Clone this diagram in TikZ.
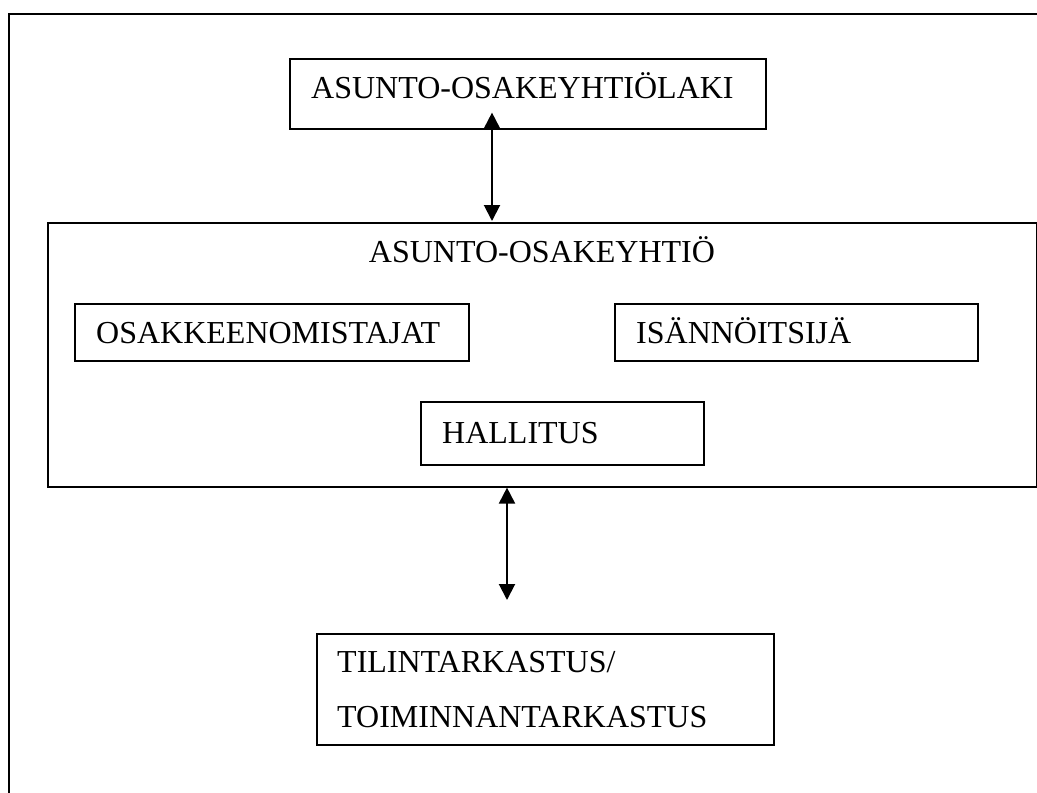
\documentclass[tikz,border=0pt]{standalone}
\usepackage{fontspec}
\setmainfont{Liberation Serif}
\usetikzlibrary{arrows.meta}
\tikzset{
  box/.style={draw=black, line width=1.6pt, rectangle, inner sep=0pt, anchor=north west},
  txt/.style={inner sep=0pt, anchor=base west, font=\fontsize{32}{38}\selectfont},
  arr/.style={line width=2pt, {Triangle[length=16pt,width=16pt]}-{Triangle[length=16pt,width=16pt]}},
  frame/.style={line width=2pt, draw=black}
}
\begin{document}
\begin{tikzpicture}[x=1pt,y=-1pt]
\useasboundingbox (0,0) rectangle (1037,793);
% outer frame (cut off at right and bottom)
\draw[frame] (1040,14) -- (9,14) -- (9,796);
% boxes
\node[box, minimum width=476pt, minimum height=70pt] (lain) at (289,58) {};
\node[box, minimum width=989pt, minimum height=264pt] (yhtio) at (47,222) {};
\node[box, minimum width=394pt, minimum height=57pt] (osak) at (74,303) {};
\node[box, minimum width=363pt, minimum height=57pt] (isann) at (614,303) {};
\node[box, minimum width=283pt, minimum height=63pt] (hall) at (420,401) {};
\node[box, minimum width=457pt, minimum height=111pt] (tili) at (316,633) {};
% texts
\node[txt] (tlain) at (311,98) {ASUNTO-OSAKEYHTIÖLAKI};
\node[txt, anchor=base] (tyhtio) at (542,262) {ASUNTO-OSAKEYHTIÖ};
\node[txt] (tosak) at (96,343) {OSAKKEENOMISTAJAT};
\node[txt] (tisann) at (636,343) {ISÄNNÖITSIJÄ};
\node[txt] (thall) at (442,443) {HALLITUS};
\node[txt] (ttili1) at (337,672) {TILINTARKASTUS/};
\node[txt] (ttili2) at (337,727) {TOIMINNANTARKASTUS};
% connectors
\coordinate (ax1) at (492,0);
\coordinate (ax2) at (507,0);
\draw[arr, shorten <=-17pt, shorten >=1pt] (lain.south -| ax1) -- (yhtio.north -| ax1);
\draw[arr, shorten >=33pt] (yhtio.south -| ax2) -- (tili.north -| ax2);
\end{tikzpicture}
\end{document}
